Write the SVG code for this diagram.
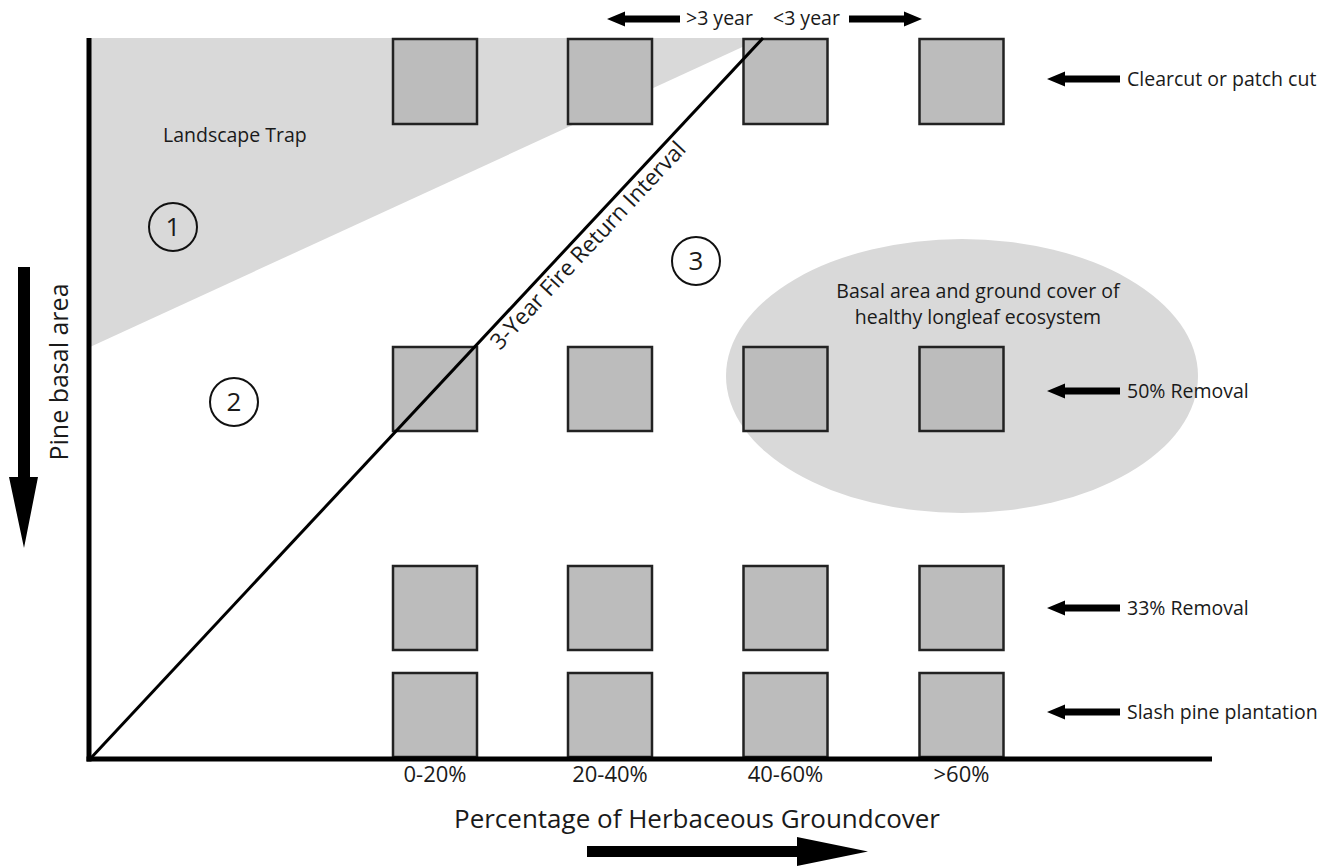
<svg xmlns="http://www.w3.org/2000/svg" width="1340" height="867" viewBox="0 0 1340 867">
<style>
text{font-family:"Open Sans","Noto Sans","Liberation Sans",sans-serif;fill:#1a1a1a}
.lbl{font-size:19.5px}
.tick{font-size:22px;text-anchor:middle}
.sq{fill:#bcbcbc;stroke:#222;stroke-width:2.5}
.zone{fill:#d9d9d9}
.num{fill:none;stroke:#111;stroke-width:2}
.dig{font-size:26px;text-anchor:middle}
.axis{stroke:#000;stroke-width:5;fill:none}
</style>
<defs>
<path id="arr" d="M0,0 L18,-7.5 L18,-3.5 L73,-3.5 L73,3.5 L18,3.5 L18,7.5 Z" fill="#000"/>
</defs>
<rect width="1340" height="867" fill="#fff"/>
<g id="zones">
<polygon id="landscape-trap-zone" class="zone" points="90,38 762,38 90,347"/>
<ellipse id="healthy-zone" class="zone" cx="962" cy="376" rx="236" ry="137"/>
</g>
<g id="squares">
<rect class="sq" x="393" y="39" width="84" height="85"/>
<rect class="sq" x="568" y="39" width="84" height="85"/>
<rect class="sq" x="743.5" y="39" width="84" height="85"/>
<rect class="sq" x="919.5" y="39" width="84" height="85"/>
<rect class="sq" x="393" y="347" width="84" height="84"/>
<rect class="sq" x="568" y="347" width="84" height="84"/>
<rect class="sq" x="743.5" y="347" width="84" height="84"/>
<rect class="sq" x="919.5" y="347" width="84" height="84"/>
<rect class="sq" x="393" y="566" width="84" height="84"/>
<rect class="sq" x="568" y="566" width="84" height="84"/>
<rect class="sq" x="743.5" y="566" width="84" height="84"/>
<rect class="sq" x="919.5" y="566" width="84" height="84"/>
<rect class="sq" x="393" y="673" width="84" height="84"/>
<rect class="sq" x="568" y="673" width="84" height="84"/>
<rect class="sq" x="743.5" y="673" width="84" height="84"/>
<rect class="sq" x="919.5" y="673" width="84" height="84"/>
</g>
<g id="connectors">
<line class="axis" x1="89" y1="38" x2="89" y2="761.5"/>
<line class="axis" x1="86.5" y1="759" x2="1212" y2="759"/>
<line id="fire-line" x1="90" y1="759" x2="763" y2="38" stroke="#000" stroke-width="3"/>
<path id="y-arrow" d="M18,267 L30,267 L30,477 L38,477 L24,548 L9,477 L18,477 Z" fill="#000"/>
<path id="x-arrow" d="M587,846 L797,846 L797,837 L868,851.5 L797,866 L797,857 L587,857 Z" fill="#000"/>
<use href="#arr" transform="translate(607,19)"/>
<use href="#arr" transform="translate(922,19) scale(-1,1)"/>
<use href="#arr" transform="translate(1047,79)"/>
<use href="#arr" transform="translate(1047,391)"/>
<use href="#arr" transform="translate(1047,608)"/>
<use href="#arr" transform="translate(1047,712)"/>
</g>
<g id="labels">
<text class="lbl" x="686" y="25">&gt;3 year</text>
<text class="lbl" x="773" y="25">&lt;3 year</text>
<text class="lbl" x="1127" y="86">Clearcut or patch cut</text>
<text class="lbl" x="1127" y="398">50% Removal</text>
<text class="lbl" x="1127" y="615">33% Removal</text>
<text class="lbl" x="1127" y="719">Slash pine plantation</text>
<text class="lbl" x="163" y="142">Landscape Trap</text>
<text class="lbl" x="978" y="298" text-anchor="middle">Basal area and ground cover of</text>
<text class="lbl" x="978" y="324" text-anchor="middle">healthy longleaf ecosystem</text>
<text transform="translate(500,351) rotate(-47)" font-size="22.5">3-Year Fire Return Interval</text>
<text class="tick" x="435" y="782">0-20%</text>
<text class="tick" x="610" y="782">20-40%</text>
<text class="tick" x="785.5" y="782">40-60%</text>
<text class="tick" x="961.5" y="782">&gt;60%</text>
<text x="697" y="828" font-size="26" text-anchor="middle">Percentage of Herbaceous Groundcover</text>
<text transform="translate(68,372) rotate(-90)" font-size="25" text-anchor="middle">Pine basal area</text>
</g>
<g id="node-1"><circle class="num" cx="173" cy="227" r="24"/><text class="dig" x="173" y="236">1</text></g>
<g id="node-2"><circle class="num" cx="234" cy="402" r="24"/><text class="dig" x="234" y="411">2</text></g>
<g id="node-3"><circle class="num" cx="696" cy="261" r="24"/><text class="dig" x="696" y="270">3</text></g>
</svg>
